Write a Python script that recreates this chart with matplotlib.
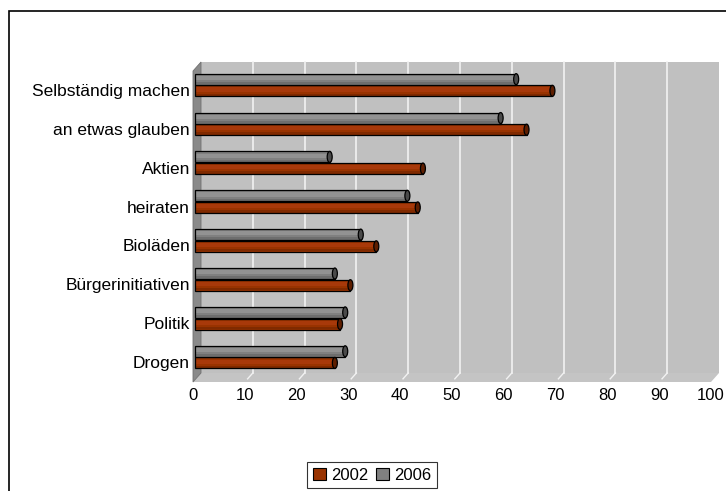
import numpy as np
import matplotlib
matplotlib.use("Agg")
import matplotlib.pyplot as plt
from matplotlib.patches import Polygon, Ellipse, Patch, Rectangle
from matplotlib.transforms import ScaledTranslation

plt.rcParams['font.family'] = ['Liberation Sans', 'DejaVu Sans']

# data (bottom to top)
categories = ["Drogen", "Politik", "Bürgerinitiativen", "Bioläden",
              "heiraten", "Aktien", "an etwas glauben", "Selbständig machen"]
values_2002 = [27, 28, 30, 35, 43, 44, 64, 69]
values_2006 = [29, 29, 27, 32, 41, 26, 59, 62]
xticks = list(range(0, 101, 10))

W, H = 726, 491
fig = plt.figure(figsize=(W / 100, H / 100), dpi=100)

# outer frame of the chart object
fig.patches.append(Rectangle((9 / W, -0.05), 1.1, 1 - 11 / H + 0.05, transform=fig.transFigure,
                             fill=False, edgecolor='black', lw=1.2))

# plot area: x 0..100 -> 193..711 px, y -0.5..7.5 -> 382..71 px
ax = fig.add_axes([193 / W, 1 - 382 / H, 518 / W, 311 / H])
ax.set_xlim(0, 100)
ax.set_ylim(-0.5, 7.5)
ax.axis('off')

px_x = 100 / 518.0
px_y = 8 / 311.0
dx = 8 * px_x   # depth offset
dy = 9 * px_y
y0, y1 = -0.5, 7.5

# back wall
ax.add_patch(Polygon([(dx, y0 + dy), (100 + dx, y0 + dy), (100 + dx, y1 + dy), (dx, y1 + dy)],
                     closed=True, facecolor='#C0C0C0', edgecolor='none', clip_on=False, zorder=0))
# floor
ax.add_patch(Polygon([(0, y0), (100, y0), (100 + dx, y0 + dy), (dx, y0 + dy)],
                     closed=True, facecolor='#C4C4C4', edgecolor='none', clip_on=False, zorder=0))
# left wall
ax.add_patch(Polygon([(0, y0), (0, y1), (dx, y1 + dy), (dx, y0 + dy)],
                     closed=True, facecolor='#8A8A8A', edgecolor='#707070', lw=0.6,
                     clip_on=False, zorder=1))

# gridlines on back wall and floor
for v in xticks[1:-1]:
    ax.plot([v + dx, v + dx], [y0 + dy, y1 + dy], color='#F2F2F2', lw=1.2, clip_on=False, zorder=0.5)
    ax.plot([v + dx * 0.35, v + dx], [y0 + dy * 0.35, y0 + dy], color='#F2F2F2', lw=1.0,
            clip_on=False, zorder=0.5)

# cylinders
shift = ax.transData + ScaledTranslation(0.02, 0, fig.dpi_scale_trans)
h = 11 * px_y
cap_w = 5 * px_x


def cylinder(yc, val, base, light, dark, capc):
    ax.barh(yc, val, height=h, color=base, edgecolor='none', transform=shift, zorder=3)
    ax.barh(yc + h * 0.12, val, height=h * 0.38, color=light, edgecolor='none', transform=shift, zorder=3)
    ax.barh(yc - h * 0.36, val, height=h * 0.22, color=dark, edgecolor='none', transform=shift, zorder=3)
    ax.barh(yc, val, height=h, fill=False, edgecolor='black', lw=0.9, transform=shift, zorder=4)
    ax.add_patch(Ellipse((val, yc), cap_w, h, facecolor=capc, edgecolor='black', lw=0.9,
                         transform=shift, zorder=5, clip_on=False))


for i in range(len(categories)):
    cylinder(i + 0.29, values_2006[i], '#808080', '#929292', '#6E6E6E', '#4A4A4A')
    cylinder(i - 0.01, values_2002[i], '#993300', '#A8390A', '#802A00', '#5E1E00')

# labels
for i, c in enumerate(categories):
    ax.text(-3 * px_x, i - 1 * px_y, c, ha='right', va='center', fontsize=12.5, color='black')
for v in xticks:
    ax.text(v, y0 - 14 * px_y, str(v), ha='center', va='center', fontsize=12, color='black',
            clip_on=False)

handles = [Patch(facecolor='#993300', edgecolor='black', lw=0.8),
           Patch(facecolor='#808080', edgecolor='black', lw=0.8)]
leg = fig.legend(handles, ['2002', '2006'], loc='center', bbox_to_anchor=(372 / W, 1 - 475 / H),
                 ncol=2, fontsize=12, frameon=True, fancybox=False, edgecolor='black',
                 handlelength=0.75, handleheight=0.75, handletextpad=0.3, columnspacing=0.5,
                 borderpad=0.35, borderaxespad=0)
leg.get_frame().set_linewidth(0.8)

fig.savefig('out.png', dpi=100, facecolor='white')
